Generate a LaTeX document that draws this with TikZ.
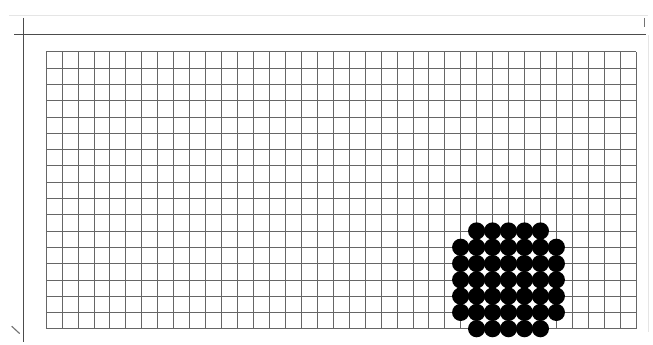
\documentclass[tikz,border=0pt]{standalone}
\usepackage{tikz}
\begin{document}
\begin{tikzpicture}[
  x=0.399cm, y=0.4075cm,
  gridline/.style={draw=black!60, line width=0.45pt},
  frameline/.style={draw=black!70, line width=0.6pt},
  faintline/.style={draw=black!10, line width=0.5pt},
  marker/.style={draw=black!55, line width=0.8pt},
  dot/.style={circle, fill=black, inner sep=0pt, minimum size=0.43cm},
]
\useasboundingbox (-2.884,-0.98) rectangle (38.06,20.18);
% Frame
\coordinate (topL) at (-2.0,18.04);
\coordinate (topR) at (37.62,18.04);
\coordinate (leftT) at (-1.44,19.08);
\coordinate (leftB) at (-1.44,-0.80);
\draw[faintline] (-2.3,19.25) -- (37.75,19.25);
\draw[faintline] (37.75,18.04) -- (37.75,-0.2);
\draw[frameline] (topL) -- (topR);
\draw[frameline] (leftT) -- (leftB);
% Corner marks
\draw[marker] (37.5,19.08) -- (37.5,18.55);
\draw[marker] (-2.15,0.15) -- (-1.65,-0.3);
% Grid
\foreach \c in {0,...,37}
  \draw[gridline] (\c,0) -- (\c,17);
\foreach \r in {0,...,17}
  \draw[gridline] (0,\r) -- (37,\r);
% Dots, rows 1 to 5 (full width)
\foreach \r in {1,...,5}
  \foreach \c in {26,...,32}
    \node[dot] (dot-\c-\r) at (\c,\r) {};
% Dots, top and bottom rows
\foreach \r in {0,6}
  \foreach \c in {27,...,31}
    \node[dot] (dot-\c-\r) at (\c,\r) {};
\end{tikzpicture}
\end{document}
